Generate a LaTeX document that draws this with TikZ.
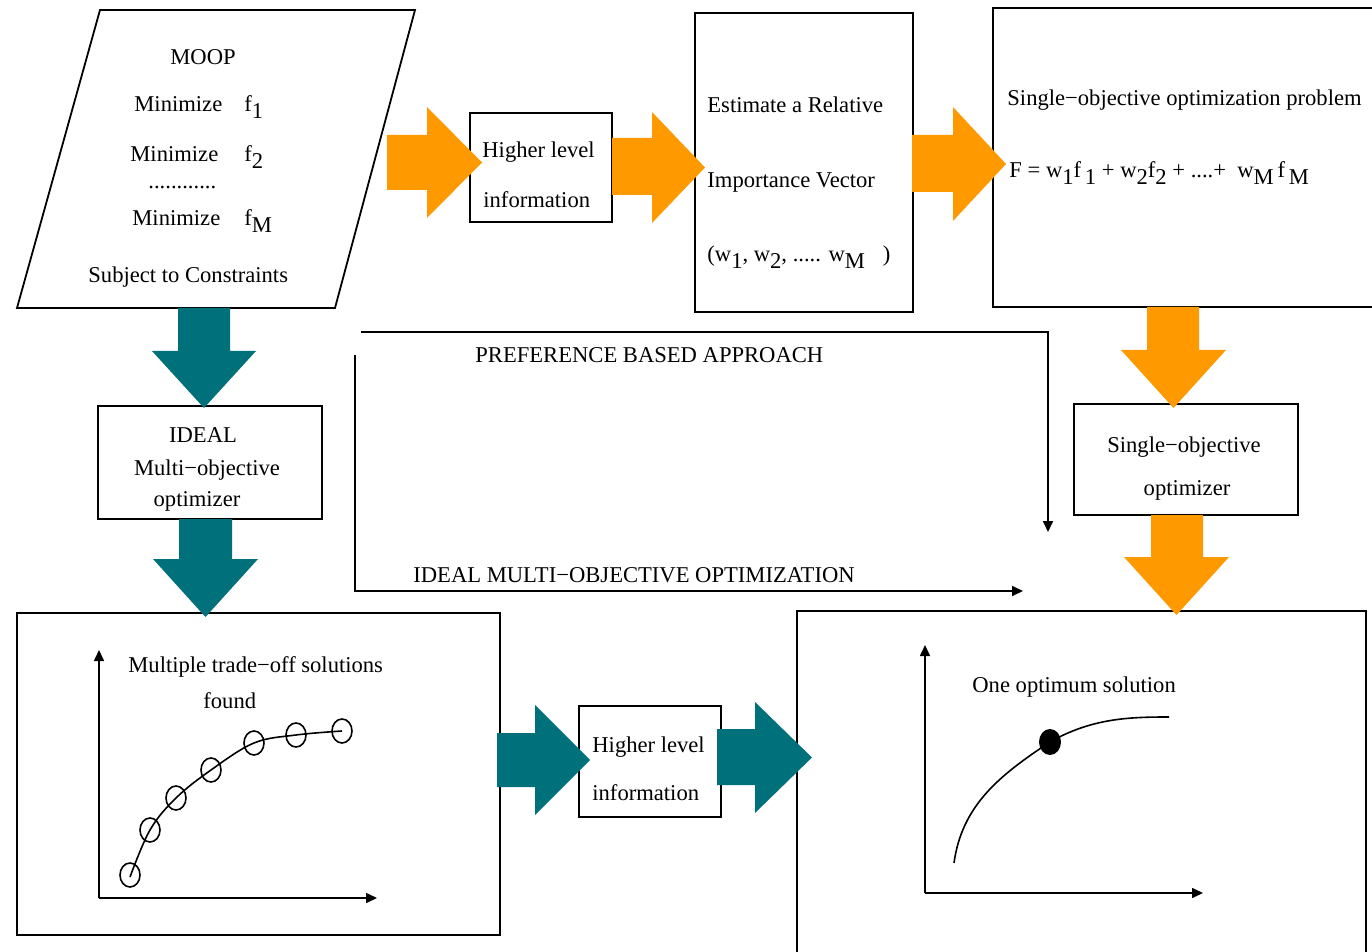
\documentclass[tikz,border=0pt]{standalone}
\usepackage{fontspec}
\setmainfont{Liberation Serif}
\usetikzlibrary{arrows.meta,fit}
\definecolor{flowOrange}{RGB}{255,153,0}
\definecolor{flowTeal}{RGB}{0,112,122}
% lowered, full-size index as in f_1
\newcommand\lowsub[1]{\raisebox{-3.2pt}{#1}}
% block arrow pointing right: style, shaft start x, head base x, tip x,
% shaft top y, shaft bottom y, head top y, head bottom y
\newcommand\RightBlock[8]{%
  \fill[#1] (#2,#5) -- (#3,#5) -- (#3,#7) -- (#4,{(#7+#8)/2}) -- (#3,#8) -- (#3,#6) -- (#2,#6) -- cycle;}
% block arrow pointing down: style, shaft start y, head base y, tip y,
% shaft left x, shaft right x, head left x, head right x
\newcommand\DownBlock[8]{%
  \fill[#1] (#5,#2) -- (#6,#2) -- (#6,#3) -- (#8,#3) -- ({(#7+#8)/2},#4) -- (#7,#3) -- (#5,#3) -- cycle;}
\begin{document}
\begin{tikzpicture}[x=0.5pt,y=-0.5pt,
  every node/.style={font=\fontsize{11.3pt}{13pt}\selectfont, inner sep=0pt},
  frame/.style={draw, line width=0.9pt, inner sep=0pt},
  txt/.style={anchor=base west},
  ctxt/.style={anchor=base},
  axis/.style={line width=0.8pt, -{Triangle[length=5.5pt,width=5pt]}},
  flowline/.style={line width=0.9pt, -{Triangle[length=5.5pt,width=5pt]}},
  orangeblk/.style={fill=flowOrange},
  tealblk/.style={fill=flowTeal},
]
\useasboundingbox (0,0) rectangle (1372,952);
\clip (0,0) rectangle (1372,952);
\fill[white] (0,0) rectangle (1372,952);

% ---------- MOOP parallelogram ----------
\coordinate (p1) at (100,10);
\coordinate (p2) at (415,10);
\coordinate (p3) at (335,308);
\coordinate (p4) at (17,308);
\draw[line width=0.9pt] (p1) -- (p2) -- (p3) -- (p4) -- cycle;
\node[ctxt] (moop) at (203,65) {MOOP};
\node[txt] (min1) at (134,112) {Minimize\hspace{11pt}f\lowsub{1}};
\node[txt] (min2) at (130,162) {Minimize\hspace{13pt}f\lowsub{2}};
\node[txt] (mdots) at (148,189) {............};
\node[txt] (minM) at (132,226) {Minimize\hspace{12pt}f\lowsub{M}};
\node[txt] (subj) at (88,283) {Subject to Constraints};

% ---------- top row boxes ----------
\node[frame, fit={(470,113) (612,222)}] (hl1) {};
\node[txt] (hl1a) at (482,158) {Higher level};
\node[txt] (hl1b) at (483,208) {information};

\node[frame, fit={(695,13) (913,312)}] (est) {};
\node[txt] (esta) at (707,113) {Estimate a Relative};
\node[txt] (estb) at (707,188) {Importance Vector};
\node[txt] (estc) at (707,262) {(w\lowsub{1}, w\lowsub{2}, ..... w\lowsub{M}\hspace{9pt})};

\node[frame, fit={(993,8) (1390,307)}] (sop) {};
\node[txt] (sopa) at (1007,106) {Single−objective optimization problem};
\node[txt] (sopb) at (1009,178) {F = w\lowsub{1}f\lowsub{\,1} + w\lowsub{2}f\lowsub{2} + ....+ \ w\lowsub{M}\,f\lowsub{\,M}};

% ---------- middle boxes ----------
\node[frame, fit={(98,406) (322,519)}] (ideal) {};
\node[ctxt] (ideala) at (203,443) {IDEAL};
\node[ctxt] (idealb) at (207,475) {Multi−objective};
\node[ctxt] (idealc) at (197,506) {optimizer};

\node[frame, fit={(1074,404) (1298,515)}] (soo) {};
\node[ctxt] (sooa) at (1184,452) {Single−objective};
\node[ctxt] (soob) at (1187,495) {optimizer};

% ---------- bottom row ----------
\node[frame, fit={(17,613) (500,935)}] (multi) {};
\node[txt] (multia) at (128,672) {Multiple trade−off solutions};
\node[txt] (multib) at (203,708) {found};
\coordinate (mo) at (99,898);
\coordinate (my) at (99,650);
\coordinate (mx) at (377,898);
\draw[axis] (mo) -- (my);
\draw[axis] (mo) -- (mx);
\draw[line width=0.8pt] plot[smooth, tension=0.6] coordinates
  {(130,877) (150,830) (176,798) (211,770) (254,743) (296,735) (342,731)};
\foreach \cx/\cy in {130/875,150/830,176/798,211/770,254/743,296/735,342/731}
  \draw[line width=0.8pt] (\cx,\cy) ellipse [x radius=10, y radius=12];

\node[frame, fit={(579,706) (721,817)}] (hl2) {};
\node[txt] (hl2a) at (592,752) {Higher level};
\node[txt] (hl2b) at (592,800) {information};

\node[frame, fit={(797,611) (1366,970)}] (one) {};
\node[txt] (onea) at (972,692) {One optimum solution};
\coordinate (oo) at (925,893);
\coordinate (oy) at (925,645);
\coordinate (ox) at (1203,893);
\draw[axis] (oo) -- (oy);
\draw[axis] (oo) -- (ox);
\draw[line width=0.8pt] (954,863) .. controls (962,805) and (1000,775) .. (1050,742)
  .. controls (1092,718) and (1130,717) .. (1169,717);
\fill (1050,742) ellipse [x radius=11, y radius=13];

% ---------- approach paths ----------
\coordinate (prefA) at (361,332);
\coordinate (prefB) at (1048,332);
\coordinate (prefC) at (1048,532);
\draw[flowline] (prefA) -- (prefB) -- (prefC);
\node[txt] (preflbl) at (475,363) {PREFERENCE BASED APPROACH};
\coordinate (idA) at (355,355);
\coordinate (idB) at (355,591);
\coordinate (idC) at (1023,591);
\draw[flowline] (idA) -- (idB) -- (idC);
\node[txt] (idlbl) at (413,582) {IDEAL MULTI−OBJECTIVE OPTIMIZATION};

% ---------- block arrows ----------
\RightBlock{orangeblk}{387}{427}{482}{135}{190}{107}{218}
\RightBlock{orangeblk}{612}{652}{705}{138}{195}{112}{223}
\RightBlock{orangeblk}{912}{953}{1006}{135}{192}{107}{221}
\DownBlock{orangeblk}{307}{350}{408}{1147}{1199}{1121}{1226}
\DownBlock{orangeblk}{515}{557}{615}{1151}{1203}{1124}{1229}
\DownBlock{tealblk}{308}{351}{408}{178}{230}{152}{256}
\DownBlock{tealblk}{519}{559}{617}{179}{232}{153}{258}
\RightBlock{tealblk}{497}{535}{590}{733}{787}{705}{815}
\RightBlock{tealblk}{717}{755}{812}{729}{785}{702}{813}
\end{tikzpicture}
\end{document}
